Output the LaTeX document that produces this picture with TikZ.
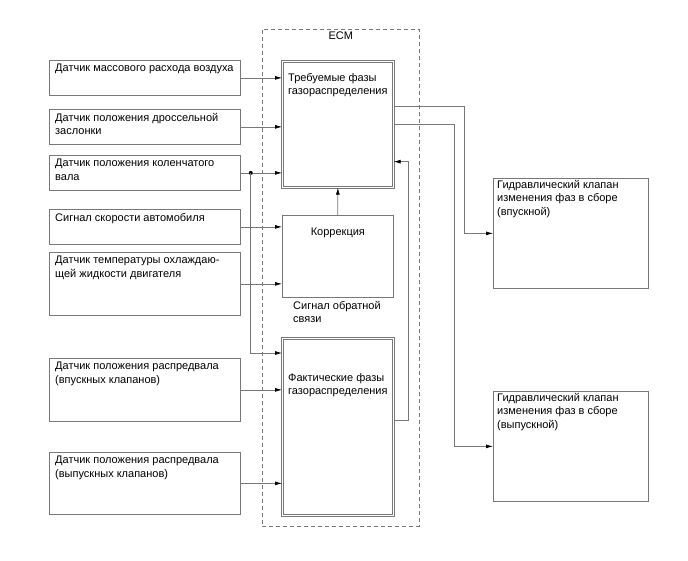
\documentclass[tikz,border=0pt]{standalone}
\usepackage{fontspec}
\setmainfont{Liberation Sans}
\usetikzlibrary{arrows.meta,positioning}

\definecolor{linegray}{RGB}{120,120,120}

\begin{document}
\begin{tikzpicture}[x=1pt,y=-1pt]
\tikzset{
  boxtext/.style={anchor=north west,align=left,inner sep=0pt,font=\fontsize{11}{13.5}\selectfont},
  sensorbox/.style={draw=linegray,line width=0.75pt,anchor=north west,inner sep=0pt,minimum width=191pt},
  valvebox/.style={draw=linegray,line width=0.75pt,anchor=north west,inner sep=0pt,minimum width=155pt,minimum height=110pt},
  ecmblock/.style={draw=linegray,line width=0.75pt,anchor=north west,inner sep=0pt,minimum width=111pt},
  doubleblock/.style={ecmblock,double=white,double distance=1.6pt,line width=0.65pt},
  ecmframe/.style={draw=linegray,line width=0.75pt,dash pattern=on 4pt off 3pt,anchor=north west,inner sep=0pt},
  sig/.style={draw=linegray,line width=0.75pt,-{Latex[length=7pt,width=4pt,color=black]}}
}
\useasboundingbox (0,0) rectangle (688,560);
% ECM frame
\node[ecmframe,minimum width=157pt,minimum height=497pt,
  label={[boxtext,anchor=north,yshift=-3pt]north:ECM}] (ecm) at (262,29) {};
% sensors
\node[sensorbox,minimum height=35pt,label={[boxtext,xshift=6pt,yshift=-4pt]north west:Датчик массового расхода воздуха}] (s1) at (49,60) {};
\node[sensorbox,minimum height=35pt,label={[boxtext,xshift=6pt,yshift=-4pt]north west:Датчик положения дроссельной\\заслонки}] (s2) at (49,109) {};
\node[sensorbox,minimum height=35pt,label={[boxtext,xshift=6pt,yshift=-4pt]north west:Датчик положения коленчатого\\вала}] (s3) at (49,155) {};
\node[sensorbox,minimum height=35pt,label={[boxtext,xshift=6pt,yshift=-4pt]north west:Сигнал скорости автомобиля}] (s4) at (49,209) {};
\node[sensorbox,minimum height=63pt,label={[boxtext,xshift=6pt,yshift=-4pt]north west:Датчик температуры охлаждаю-\\щей жидкости двигателя}] (s5) at (49,252) {};
\node[sensorbox,minimum height=63pt,label={[boxtext,xshift=6pt,yshift=-4pt]north west:Датчик положения распредвала\\(впускных клапанов)}] (s6) at (49,358) {};
\node[sensorbox,minimum height=62pt,label={[boxtext,xshift=6pt,yshift=-4pt]north west:Датчик положения распредвала\\(выпускных клапанов)}] (s7) at (49,452) {};
% ECM blocks
\node[doubleblock,minimum height=126pt,label={[boxtext,xshift=6pt,yshift=-12pt]north west:Требуемые фазы\\газораспределения}] (req) at (282,61) {};
\node[ecmblock,minimum height=82pt,label={[boxtext,anchor=north,yshift=-13pt]north:Коррекция}] (cor) at (282,215) {};
\node[boxtext,below right=3pt and 11pt of cor.south west,anchor=north west] (fbnote) {Сигнал обратной\\связи};
\node[doubleblock,minimum height=177pt,label={[boxtext,xshift=6pt,yshift=-35pt]north west:Фактические фазы\\газораспределения}] (act) at (282,338) {};
% actuators
\node[valvebox,label={[boxtext,xshift=4pt,yshift=-2pt]north west:Гидравлический клапан\\изменения фаз в сборе\\(впускной)}] (v1) at (493,178) {};
\node[valvebox,label={[boxtext,xshift=4pt,yshift=-2pt]north west:Гидравлический клапан\\изменения фаз в сборе\\(выпускной)}] (v2) at (493,391) {};
% inputs
\draw[sig] (s1) -- (req.west |- s1);
\draw[sig] (s2) -- (req.west |- s2);
\draw[sig] (s3) -- (req.west |- s3);
\draw[sig] (s4) -- (cor.west |- s4);
\draw[sig] (s5) -- (cor.west |- s5);
\draw[sig] (s6) -- (act.west |- s6);
\draw[sig] (s7) -- (act.west |- s7);
\coordinate (crk) at ([xshift=10pt]s3.east);
\fill (crk) circle (2pt);
\draw[sig] (crk) |- ([yshift=-15pt]act.north west);
% inside ECM
\draw[sig] (cor) -- (req);
\draw[sig] ([yshift=95pt]act.south east) -| ([xshift=15pt,yshift=26pt]req.south east) -- ([yshift=26pt]req.south east);
% outputs
\draw[sig] ([yshift=-45pt]req.north east) -| ([xshift=-29pt]v1.west) -- (v1.west);
\draw[sig] ([yshift=-63pt]req.north east) -| ([xshift=-39pt]v2.west) -- (v2.west);
\end{tikzpicture}
\end{document}
